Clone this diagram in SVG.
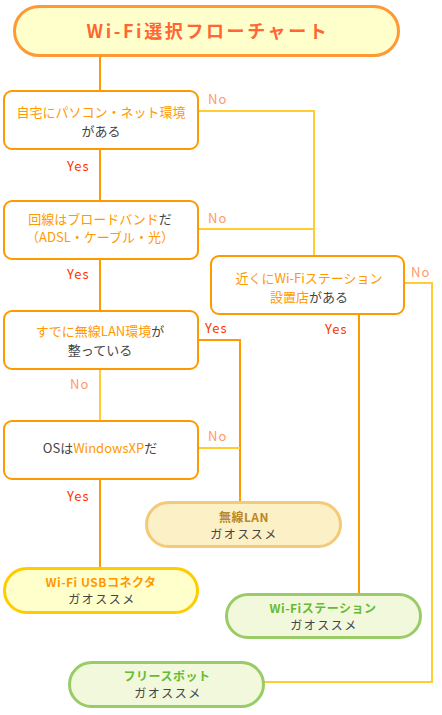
<svg xmlns="http://www.w3.org/2000/svg" width="442" height="715" viewBox="0 0 442 715">
<style>
text{font-family:"Noto Sans CJK JP","Noto Sans",sans-serif;}
.box{fill:#fff;stroke:#FF9900;stroke-width:2;}
.t{font-size:13px;text-anchor:middle;fill:#444444;}
.o{fill:#FF9900;}
.d{fill:#444444;}
.yes{font-size:13px;fill:#FF3300;letter-spacing:1px;}
.no{font-size:13px;fill:#FF9966;letter-spacing:1px;}
.ly{fill:none;stroke:#FFCC33;stroke-width:2;}
.lo{fill:none;stroke:#FF9900;stroke-width:2;}
.rt{font-size:12px;text-anchor:middle;font-weight:bold;letter-spacing:0.5px;}
.sub{font-size:12px;text-anchor:middle;fill:#444444;letter-spacing:1.5px;}
</style>
<rect width="442" height="715" fill="#fff"/>
<g id="connectors">
<path class="lo" d="M100 57V91"/>
<path class="lo" d="M100 149V201"/>
<path class="lo" d="M100 259V311"/>
<path class="ly" d="M100 369V421"/>
<path class="lo" d="M100 479V568"/>
<path class="ly" d="M197 111H314V256"/>
<path class="ly" d="M197 229H314"/>
<path class="lo" d="M197 340H240V502"/>
<path class="ly" d="M197 448H240"/>
<path class="lo" d="M359 314V594"/>
<path class="ly" d="M403 283H432V682H264"/>
<text class="yes" x="67" y="171">Yes</text>
<text class="no" x="208" y="104">No</text>
<text class="no" x="208" y="223">No</text>
<text class="yes" x="67" y="279">Yes</text>
<text class="no" x="411" y="277">No</text>
<text class="yes" x="205" y="333">Yes</text>
<text class="yes" x="325" y="334">Yes</text>
<text class="no" x="70" y="389">No</text>
<text class="no" x="208" y="441">No</text>
<text class="yes" x="67" y="501">Yes</text>
</g>
<g id="title">
<rect x="14.5" y="6.5" width="384" height="49" rx="24.5" fill="#FFFFCC" stroke="#FF9933" stroke-width="3"/>
<text x="208" y="38" font-size="18" font-weight="bold" fill="#FF6633" text-anchor="middle" letter-spacing="2.6">Wi-Fi選択フローチャート</text>
</g>
<g id="q1">
<rect class="box" x="4" y="91" width="194" height="58" rx="8"/>
<text class="t" x="101" y="117"><tspan class="o">自宅にパソコン・ネット環境</tspan></text>
<text class="t" x="101" y="136">がある</text>
</g>
<g id="q2">
<rect class="box" x="4" y="201" width="194" height="58" rx="8"/>
<text class="t" x="100" y="224"><tspan class="o">回線はブロードバンド</tspan><tspan class="d">だ</tspan></text>
<text class="t" x="100" y="242"><tspan class="o">（ADSL・ケーブル・光）</tspan></text>
</g>
<g id="q3">
<rect class="box" x="4" y="311" width="194" height="58" rx="8"/>
<text class="t" x="100" y="336"><tspan class="o">すでに無線LAN環境</tspan><tspan class="d">が</tspan></text>
<text class="t" x="100" y="355">整っている</text>
</g>
<g id="q4">
<rect class="box" x="4" y="421" width="194" height="58" rx="8"/>
<text class="t" x="100" y="453"><tspan class="d">OSは</tspan><tspan class="o">WindowsXP</tspan><tspan class="d">だ</tspan></text>
</g>
<g id="q5">
<rect class="box" x="211" y="256" width="193" height="58" rx="8"/>
<text class="t" x="309" y="283"><tspan class="o">近くにWi-Fiステーション</tspan></text>
<text class="t" x="309" y="302"><tspan class="o">設置店</tspan><tspan class="d">がある</tspan></text>
</g>
<g id="r-lan">
<rect x="146.5" y="502.5" width="194" height="44" rx="22" fill="#FCF0C6" stroke="#F2CA78" stroke-width="3"/>
<text class="rt" x="244" y="522" fill="#BB8822">無線LAN</text>
<text class="sub" x="244" y="539">ガオススメ</text>
</g>
<g id="r-usb">
<rect x="4.5" y="568.5" width="193" height="44" rx="22" fill="#FFFFCC" stroke="#FFCC00" stroke-width="3"/>
<text class="rt" x="101" y="587" fill="#FF9900">Wi-Fi USBコネクタ</text>
<text class="sub" x="102" y="604">ガオススメ</text>
</g>
<g id="r-station">
<rect x="226.5" y="594.5" width="194" height="43" rx="21.5" fill="#F2F8DC" stroke="#99CC66" stroke-width="3"/>
<text class="rt" x="323" y="613" fill="#66BB33">Wi-Fiステーション</text>
<text class="sub" x="324" y="630">ガオススメ</text>
</g>
<g id="r-free">
<rect x="69.5" y="662.5" width="194" height="44" rx="22" fill="#F2F8DC" stroke="#99CC66" stroke-width="3"/>
<text class="rt" x="167" y="681" fill="#66BB33">フリースポット</text>
<text class="sub" x="168" y="698">ガオススメ</text>
</g>
</svg>
